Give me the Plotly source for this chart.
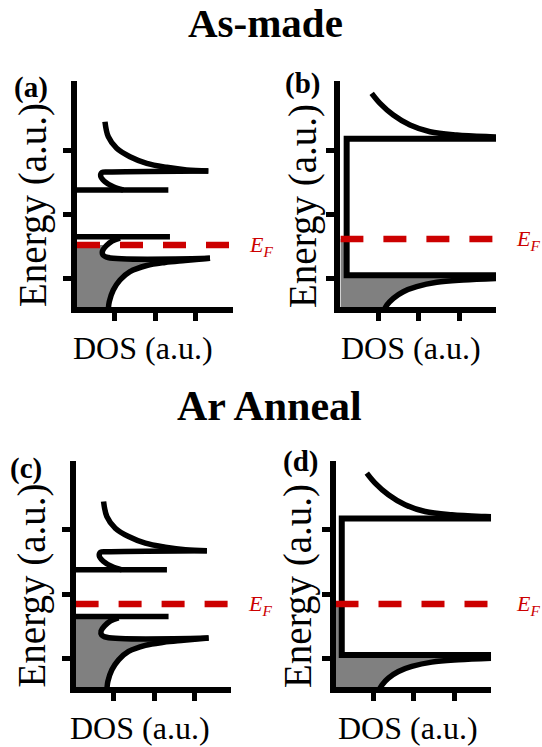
import plotly.graph_objects as go

# ---------------- axis values (data units, a.u.) ----------------
X_RANGE = [0.06, 3.91]
Y_RANGE = [0.55, 4.08]
X_TICKS = [1, 2, 3]
Y_TICKS = [1, 2, 3]

# ---------------- panels (a) & (c): DOS with defect states ----------------
DEF_LOW_Y = 1.649
DEF_LOW_XMAX = 2.36
DEF_HIGH_Y = 2.377
DEF_HIGH_XMAX = 2.32

VB_TAIL_X = [3.351, 2.733, 2.238, 1.785, 1.371, 1.124, 0.958, 0.859, 0.834]
VB_TAIL_Y = [1.313, 1.278, 1.247, 1.200, 1.104, 0.974, 0.818, 0.636, 0.507]
VB_CURL_X = [1.124, 0.926, 0.777, 0.691, 0.703, 0.827, 3.351]
VB_CURL_Y = [1.629, 1.582, 1.504, 1.426, 1.364, 1.325, 1.313]
CB_CURL_X = [1.205, 0.958, 0.752, 0.646, 0.678, 0.876, 3.309]
CB_CURL_Y = [2.377, 2.429, 2.507, 2.595, 2.650, 2.658, 2.673]
CB_TAIL_X = [3.309, 2.775, 2.280, 1.785, 1.371, 1.042, 0.834, 0.752]
CB_TAIL_Y = [2.673, 2.689, 2.731, 2.793, 2.896, 3.027, 3.208, 3.442]

# ---------------- panels (b) & (d): gapped DOS ----------------
GAP_EDGE_X = 0.215
CBM_Y = 3.178
VBM_Y = 1.047
CB2_X = [3.91, 3.762, 2.938, 2.277, 1.782, 1.369, 1.040, 0.834]
CB2_Y = [3.205, 3.208, 3.235, 3.286, 3.391, 3.547, 3.729, 3.885]
VB2_X = [1.121, 1.213, 1.369, 1.616, 1.948, 2.443, 3.101, 3.91]
VB2_Y = [0.480, 0.585, 0.689, 0.792, 0.870, 0.938, 0.974, 0.998]

# Fermi levels
E_F = {"a": 1.52, "b": 1.613, "c": 1.843, "d": 1.843}

W, H = 542, 747
BLACK = "black"
RED = "#CC0000"
GRAY = "#808080"
SERIF = "Liberation Serif, Times New Roman, serif"
LW = 5.5


def clip_profile(px, py, cap):
    xs, ys = [], []
    for i in range(len(px)):
        if py[i] <= cap:
            xs.append(px[i]); ys.append(py[i])
        else:
            if i > 0:
                t = (cap - py[i - 1]) / (py[i] - py[i - 1])
                xs.append(px[i - 1] + t * (px[i] - px[i - 1])); ys.append(cap)
            break
    return xs, ys


fig = go.Figure()
panels = {"a": ("x", "y"), "b": ("x2", "y2"), "c": ("x3", "y3"), "d": ("x4", "y4")}
X0, X1 = X_RANGE


def line(xs, ys, xa, ya, shape="linear", color=BLACK, width=LW, dash=None):
    fig.add_trace(go.Scatter(x=xs, y=ys, xaxis=xa, yaxis=ya, mode="lines",
                             line=dict(color=color, width=width, shape=shape, dash=dash),
                             hoverinfo="skip", showlegend=False))


for key, (xa, ya) in panels.items():
    ef = E_F[key]
    if key in ("a", "c"):
        prof_x = VB_TAIL_X[::-1] + VB_CURL_X[::-1][1:]
        prof_y = VB_TAIL_Y[::-1] + VB_CURL_Y[::-1][1:]
        cap = min(ef, DEF_LOW_Y)
    else:
        prof_x = VB2_X + [X1, GAP_EDGE_X, GAP_EDGE_X]
        prof_y = VB2_Y + [VBM_Y, VBM_Y, CBM_Y]
        cap = ef
    fx, fy = clip_profile(prof_x, prof_y, cap)
    fx = fx + [X0, X0]
    fy = fy + [cap, prof_y[0]]
    fig.add_trace(go.Scatter(x=fx, y=fy, xaxis=xa, yaxis=ya, mode="lines", fill="toself",
                             fillcolor=GRAY, line=dict(width=0, color=GRAY),
                             hoverinfo="skip", showlegend=False))
    if key in ("a", "c"):
        line([X0, DEF_LOW_XMAX], [DEF_LOW_Y, DEF_LOW_Y], xa, ya)
        line([X0, DEF_HIGH_XMAX], [DEF_HIGH_Y, DEF_HIGH_Y], xa, ya)
        line(VB_CURL_X, VB_CURL_Y, xa, ya, "spline")
        line(VB_TAIL_X, VB_TAIL_Y, xa, ya, "spline")
        line(CB_CURL_X, CB_CURL_Y, xa, ya, "spline")
        line(CB_TAIL_X, CB_TAIL_Y, xa, ya, "spline")
    else:
        line([X1, GAP_EDGE_X, GAP_EDGE_X, X1], [CBM_Y, CBM_Y, VBM_Y, VBM_Y], xa, ya, width=6)
        line(CB2_X, CB2_Y, xa, ya, "spline")
        line(VB2_X, VB2_Y, xa, ya, "spline")
    line([X0, X1], [ef, ef], xa, ya, color=RED, width=6.5, dash="23px,20px")

# domains in pixels: (left, right, top, bottom)
DOM = {"a": (77.0, 232.6, 80.8, 307.2), "b": (340.4, 496.0, 80.8, 307.2),
       "c": (75.6, 231.2, 460.6, 687.0), "d": (335.5, 491.1, 460.6, 687.0)}

axis_common = dict(showticklabels=False, ticks="outside", ticklen=8, tickwidth=5,
                   tickcolor=BLACK, showline=True, linewidth=6, linecolor=BLACK,
                   showgrid=False, zeroline=False, fixedrange=True)
layout_axes = {}
for i, key in enumerate(["a", "b", "c", "d"]):
    l, r, t, b = DOM[key]
    sfx = "" if i == 0 else str(i + 1)
    layout_axes["xaxis" + sfx] = dict(axis_common, range=X_RANGE, tickvals=X_TICKS,
                                      domain=[l / W, r / W], anchor="y" + sfx)
    layout_axes["yaxis" + sfx] = dict(axis_common, range=Y_RANGE, tickvals=Y_TICKS,
                                      domain=[1 - b / H, 1 - t / H], anchor="x" + sfx)


def ann(text, x, y, size, bold=False, angle=0, color=BLACK, xanchor="center"):
    return dict(text=("<b>%s</b>" % text) if bold else text, x=x / W, y=1 - y / H,
                xref="paper", yref="paper", showarrow=False, textangle=angle,
                xanchor=xanchor, yanchor="middle", borderpad=0,
                font=dict(family=SERIF, size=size, color=color))


annotations = [
    ann("As-made", 265.8, 22.5, 41, bold=True),
    ann("Ar Anneal", 269, 406.1, 42, bold=True),
    ann("(a)", 30.8, 87.6, 29, bold=True),
    ann("(b)", 302.5, 83.6, 29, bold=True),
    ann("(c)", 25.8, 468.6, 29, bold=True),
    ann("(d)", 300.8, 461.6, 29, bold=True),
    ann("Energy (a.u.)", 33, 205, 39, angle=-90),
    ann("Energy (a.u.)", 303, 206, 39, angle=-90),
    ann("Energy (a.u.)", 31.5, 586, 39, angle=-90),
    ann("Energy (a.u.)", 298, 586, 39, angle=-90),
    ann("DOS (a.u.)", 142.5, 347.5, 32),
    ann("DOS (a.u.)", 410.8, 347.5, 32),
    ann("DOS (a.u.)", 140, 727.5, 32),
    ann("DOS (a.u.)", 407.5, 727.5, 32),
    ann("<i>E<sub>F</sub></i>", 248, 246, 22, color=RED, xanchor="left"),
    ann("<i>E<sub>F</sub></i>", 515, 240, 22, color=RED, xanchor="left"),
    ann("<i>E<sub>F</sub></i>", 247, 605, 22, color=RED, xanchor="left"),
    ann("<i>E<sub>F</sub></i>", 515, 605, 22, color=RED, xanchor="left"),
]

fig.update_layout(width=W, height=H, margin=dict(l=0, r=0, t=0, b=0),
                  paper_bgcolor="white", plot_bgcolor="white",
                  annotations=annotations, **layout_axes)

fig.write_html("out.html", config={"displayModeBar": False})
